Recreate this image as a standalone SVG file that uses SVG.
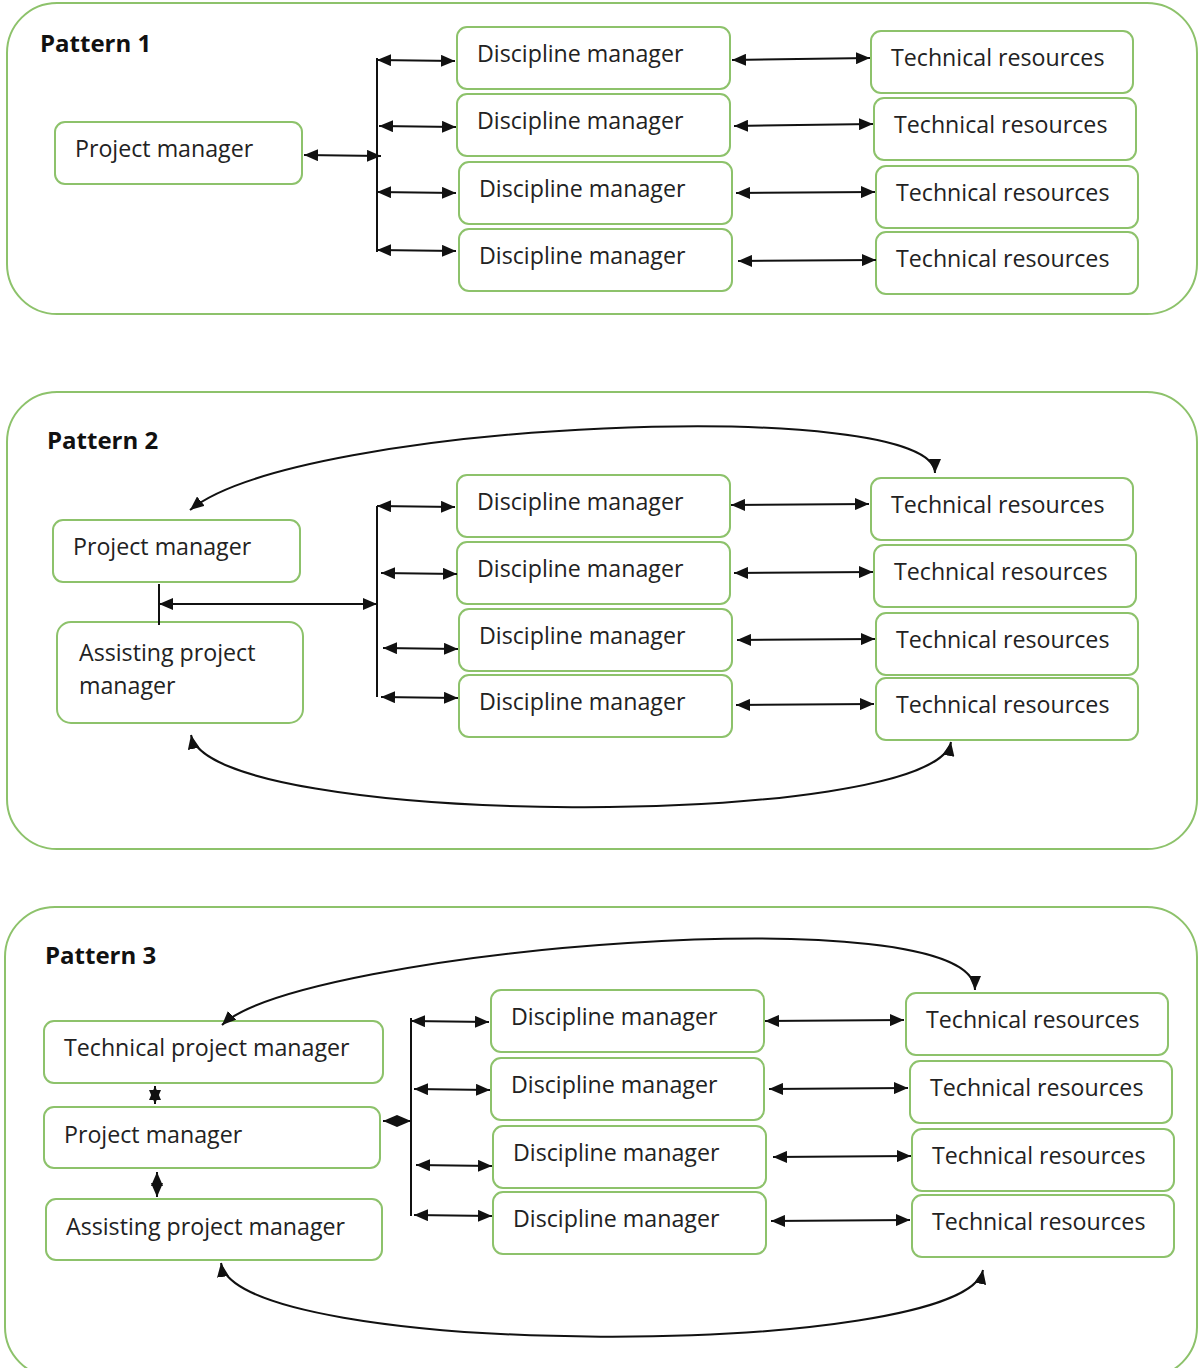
<svg xmlns="http://www.w3.org/2000/svg" width="1198" height="1368" viewBox="0 0 1198 1368">
<style>
.frame{fill:#fff;stroke:#8dc26b;stroke-width:2}
.box{fill:#fff;stroke:#8dc26b;stroke-width:2}
.t{font-family:"Open Sans","Noto Sans",sans-serif;font-size:23.2px;fill:#222}
.h{font-family:"Open Sans","Noto Sans",sans-serif;font-size:24px;font-weight:bold;fill:#111}
.c{fill:none;stroke:#111;stroke-width:2}
.a{fill:none;stroke:#111;stroke-width:2;marker-start:url(#ah);marker-end:url(#ah)}
</style>
<defs>
<marker id="ah" viewBox="0 0 14 12" refX="14" refY="6" markerWidth="14" markerHeight="12" markerUnits="userSpaceOnUse" orient="auto-start-reverse">
<path d="M0,0 L14,6 L0,12 z" fill="#111"/>
</marker>
</defs>
<rect width="1198" height="1368" fill="#fff"/>

<g id="pattern1">
<rect class="frame" x="7" y="3" width="1190" height="311" rx="50"/>
<text class="h" x="40" y="52">Pattern 1</text>
</g>
<g id="p1-pm"><rect class="box" x="55" y="122" width="247" height="62" rx="10"/><text class="t" x="75" y="157">Project manager</text></g>
<g id="p1-dm1"><rect class="box" x="457" y="27" width="273" height="62" rx="10"/><text class="t" x="477" y="62">Discipline manager</text></g>
<g id="p1-dm2"><rect class="box" x="457" y="94" width="273" height="62" rx="10"/><text class="t" x="477" y="129">Discipline manager</text></g>
<g id="p1-dm3"><rect class="box" x="459" y="162" width="273" height="62" rx="10"/><text class="t" x="479" y="197">Discipline manager</text></g>
<g id="p1-dm4"><rect class="box" x="459" y="229" width="273" height="62" rx="10"/><text class="t" x="479" y="264">Discipline manager</text></g>
<g id="p1-tr1"><rect class="box" x="871" y="31" width="262" height="62" rx="10"/><text class="t" x="891" y="66">Technical resources</text></g>
<g id="p1-tr2"><rect class="box" x="874" y="98" width="262" height="62" rx="10"/><text class="t" x="894" y="133">Technical resources</text></g>
<g id="p1-tr3"><rect class="box" x="876" y="166" width="262" height="62" rx="10"/><text class="t" x="896" y="201">Technical resources</text></g>
<g id="p1-tr4"><rect class="box" x="876" y="232" width="262" height="62" rx="10"/><text class="t" x="896" y="267">Technical resources</text></g>

<g id="pattern2">
<rect class="frame" x="7" y="392" width="1190" height="457" rx="50"/>
<text class="h" x="47" y="449">Pattern 2</text>
</g>
<g id="p2-pm"><rect class="box" x="53" y="520" width="247" height="62" rx="10"/><text class="t" x="73" y="555">Project manager</text></g>
<g id="p2-apm"><rect class="box" x="57" y="622" width="246" height="101" rx="14"/><text class="t" x="79" y="661">Assisting project</text><text class="t" x="79" y="694">manager</text></g>
<g id="p2-dm1"><rect class="box" x="457" y="475" width="273" height="62" rx="10"/><text class="t" x="477" y="510">Discipline manager</text></g>
<g id="p2-dm2"><rect class="box" x="457" y="542" width="273" height="62" rx="10"/><text class="t" x="477" y="577">Discipline manager</text></g>
<g id="p2-dm3"><rect class="box" x="459" y="609" width="273" height="62" rx="10"/><text class="t" x="479" y="644">Discipline manager</text></g>
<g id="p2-dm4"><rect class="box" x="459" y="675" width="273" height="62" rx="10"/><text class="t" x="479" y="710">Discipline manager</text></g>
<g id="p2-tr1"><rect class="box" x="871" y="478" width="262" height="62" rx="10"/><text class="t" x="891" y="513">Technical resources</text></g>
<g id="p2-tr2"><rect class="box" x="874" y="545" width="262" height="62" rx="10"/><text class="t" x="894" y="580">Technical resources</text></g>
<g id="p2-tr3"><rect class="box" x="876" y="613" width="262" height="62" rx="10"/><text class="t" x="896" y="648">Technical resources</text></g>
<g id="p2-tr4"><rect class="box" x="876" y="678" width="262" height="62" rx="10"/><text class="t" x="896" y="713">Technical resources</text></g>

<g id="pattern3">
<rect class="frame" x="5" y="907" width="1192" height="470" rx="50"/>
<text class="h" x="45" y="964">Pattern 3</text>
</g>
<g id="p3-tpm"><rect class="box" x="44" y="1021" width="339" height="62" rx="10"/><text class="t" x="64" y="1056">Technical project manager</text></g>
<g id="p3-pm"><rect class="box" x="44" y="1107" width="336" height="61" rx="10"/><text class="t" x="64" y="1143">Project manager</text></g>
<g id="p3-apm"><rect class="box" x="46" y="1199" width="336" height="61" rx="10"/><text class="t" x="66" y="1235">Assisting project manager</text></g>
<g id="p3-dm1"><rect class="box" x="491" y="990" width="273" height="62" rx="10"/><text class="t" x="511" y="1025">Discipline manager</text></g>
<g id="p3-dm2"><rect class="box" x="491" y="1058" width="273" height="62" rx="10"/><text class="t" x="511" y="1093">Discipline manager</text></g>
<g id="p3-dm3"><rect class="box" x="493" y="1126" width="273" height="62" rx="10"/><text class="t" x="513" y="1161">Discipline manager</text></g>
<g id="p3-dm4"><rect class="box" x="493" y="1192" width="273" height="62" rx="10"/><text class="t" x="513" y="1227">Discipline manager</text></g>
<g id="p3-tr1"><rect class="box" x="906" y="993" width="262" height="62" rx="10"/><text class="t" x="926" y="1028">Technical resources</text></g>
<g id="p3-tr2"><rect class="box" x="910" y="1061" width="262" height="62" rx="10"/><text class="t" x="930" y="1096">Technical resources</text></g>
<g id="p3-tr3"><rect class="box" x="912" y="1129" width="262" height="62" rx="10"/><text class="t" x="932" y="1164">Technical resources</text></g>
<g id="p3-tr4"><rect class="box" x="912" y="1195" width="262" height="62" rx="10"/><text class="t" x="932" y="1230">Technical resources</text></g>

<g id="connectors">
<!-- Pattern 1 -->
<line class="c" x1="377" y1="58" x2="377" y2="252"/>
<line class="a" x1="304" y1="155" x2="381" y2="156"/>
<line class="a" x1="377" y1="60" x2="455" y2="61"/>
<line class="a" x1="379" y1="126" x2="456" y2="127"/>
<line class="a" x1="377" y1="192" x2="456" y2="193"/>
<line class="a" x1="377" y1="250" x2="456" y2="251"/>
<line class="a" x1="732" y1="60" x2="870" y2="58"/>
<line class="a" x1="734" y1="126" x2="873" y2="124"/>
<line class="a" x1="736" y1="193" x2="875" y2="192"/>
<line class="a" x1="738" y1="261" x2="876" y2="260"/>
<!-- Pattern 2 -->
<line class="c" x1="377" y1="506" x2="377" y2="697"/>
<line class="c" x1="159" y1="584" x2="159" y2="625"/>
<line class="a" x1="159" y1="604" x2="377" y2="604"/>
<line class="a" x1="377" y1="506" x2="455" y2="507"/>
<line class="a" x1="381" y1="573" x2="457" y2="574"/>
<line class="a" x1="383" y1="648" x2="458" y2="649"/>
<line class="a" x1="381" y1="697" x2="458" y2="698"/>
<line class="a" x1="731" y1="505" x2="869" y2="504"/>
<line class="a" x1="734" y1="573" x2="873" y2="572"/>
<line class="a" x1="737" y1="640" x2="875" y2="639"/>
<line class="a" x1="736" y1="705" x2="874" y2="704"/>
<path class="a" d="M190 510 C300 420 935 395 935 473"/>
<path class="a" d="M191 735 C210 830 935 830 951 742"/>
<!-- Pattern 3 -->
<line class="c" x1="411" y1="1018" x2="411" y2="1216"/>
<line class="a" x1="383" y1="1121" x2="411" y2="1121"/>
<line class="a" x1="155" y1="1086" x2="155" y2="1104"/>
<line class="a" x1="157" y1="1172" x2="157" y2="1197"/>
<line class="a" x1="411" y1="1021" x2="489" y2="1022"/>
<line class="a" x1="414" y1="1089" x2="490" y2="1090"/>
<line class="a" x1="416" y1="1165" x2="492" y2="1166"/>
<line class="a" x1="414" y1="1215" x2="492" y2="1216"/>
<line class="a" x1="765" y1="1021" x2="904" y2="1020"/>
<line class="a" x1="769" y1="1089" x2="908" y2="1088"/>
<line class="a" x1="773" y1="1157" x2="911" y2="1156"/>
<line class="a" x1="771" y1="1221" x2="910" y2="1220"/>
<path class="a" d="M222 1025 C300 950 975 893 975 990"/>
<path class="a" d="M221 1263 C235 1360 965 1360 983 1270"/>
</g>
</svg>
